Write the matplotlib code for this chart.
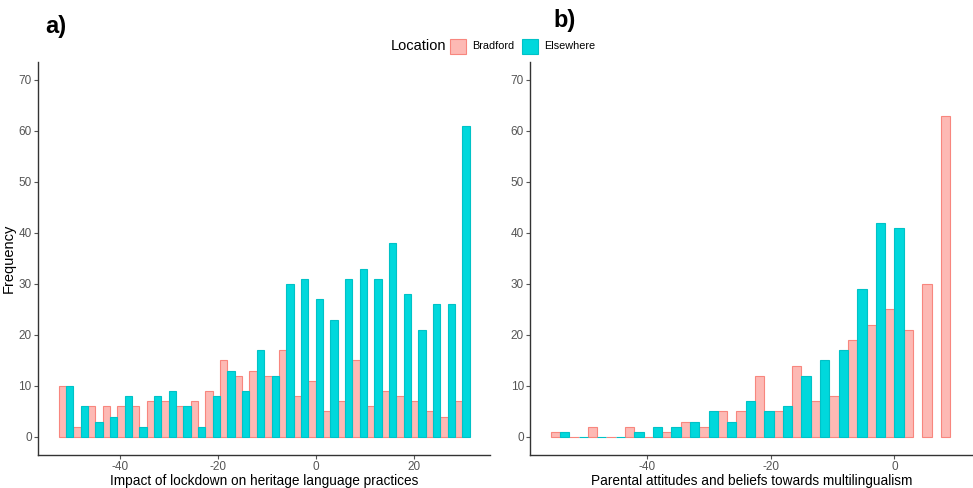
import numpy as np
import matplotlib.pyplot as plt
from matplotlib.patches import Rectangle

plt.rcParams['font.family'] = ['Liberation Sans', 'DejaVu Sans']
plt.rcParams['axes.unicode_minus'] = False

# histogram counts, binwidth 3, one value per bin centre
lock_centres = np.arange(-51, 31, 3)
lock_bradford = [10, 2, 6, 6, 6, 6, 7, 7, 6, 7, 9, 15, 12, 13,
                 12, 17, 8, 11, 5, 7, 15, 6, 9, 8, 7, 5, 4, 7]
lock_elsewhere = [10, 6, 3, 4, 8, 2, 8, 9, 6, 2, 8, 13, 9, 17,
                  12, 30, 31, 27, 23, 31, 33, 31, 38, 28, 21, 26, 26, 61]

att_centres = np.arange(-54, 10, 3)
att_bradford = [1, 0, 2, 0, 2, 0, 1, 3, 2, 5, 5, 12, 5, 14,
                7, 8, 19, 22, 25, 21, 30, 63]
# no Elsewhere responses above the 0 bin
att_elsewhere = [1, 0, 0, 0, 1, 2, 2, 3, 5, 3, 7, 5, 6, 12,
                 15, 17, 29, 42, 41]

legend_title = 'Location'
legend_labels = ['Bradford', 'Elsewhere']

pink_face, pink_edge = '#FDB9B4', '#F8867E'
cyan_face, cyan_edge = '#00D8DC', '#00C2C7'
axis_grey = '#333333'
tick_grey = '#555555'

fig = plt.figure(figsize=(9.73, 4.88), dpi=100)
ax1 = fig.add_axes([0.039, 0.068, 0.465, 0.805])
ax2 = fig.add_axes([0.545, 0.068, 0.455, 0.805])


def draw_hist(ax, centres, brad, elsw, xlim, xticks, xlabel):
    centres = np.asarray(centres)
    ax.bar(centres - 0.75, brad, width=1.5, facecolor=pink_face,
           edgecolor=pink_edge, linewidth=0.8)
    ax.bar(centres[:len(elsw)] + 0.75, elsw, width=1.5, facecolor=cyan_face,
           edgecolor=cyan_edge, linewidth=0.8)
    ax.set_xlim(*xlim)
    ax.set_ylim(-3.5, 73.5)
    ax.set_xticks(xticks)
    ax.set_yticks(range(0, 71, 10))
    ax.set_xlabel(xlabel, fontsize=9.8, labelpad=1)
    for side in ['top', 'right']:
        ax.spines[side].set_visible(False)
    for side in ['left', 'bottom']:
        ax.spines[side].set_color(axis_grey)
        ax.spines[side].set_linewidth(1.0)
    ax.tick_params(colors=tick_grey, labelsize=8.5, length=3, width=0.8, pad=1.5)


draw_hist(ax1, lock_centres, lock_bradford, lock_elsewhere, (-56.7, 35.7),
          [-40, -20, 0, 20], 'Impact of lockdown on heritage language practices')
draw_hist(ax2, att_centres, att_bradford, att_elsewhere, (-58.8, 12.7),
          [-40, -20, 0], 'Parental attitudes and beliefs towards multilingualism')
ax1.set_ylabel('Frequency', fontsize=10.5, labelpad=2)

fig.text(0.047, 0.945, 'a)', fontsize=17, fontweight='bold', va='center')
fig.text(0.569, 0.958, 'b)', fontsize=17, fontweight='bold', va='center')

# single-row legend: title, then key + label pairs
leg_y = 1 - 46 / 488
fig.text(391 / 973, leg_y, legend_title, fontsize=10.5, va='center')
key_w, key_h = 16 / 973, 15 / 488
for x_key, label, fc, ec in [(450, legend_labels[0], pink_face, pink_edge),
                             (522, legend_labels[1], cyan_face, cyan_edge)]:
    fig.add_artist(Rectangle((x_key / 973, leg_y - key_h / 2), key_w, key_h,
                             transform=fig.transFigure, facecolor=fc,
                             edgecolor=ec, linewidth=0.8))
    fig.text((x_key + 22) / 973, leg_y, label, fontsize=7.8, va='center')

fig.savefig('out.png', dpi=100)
